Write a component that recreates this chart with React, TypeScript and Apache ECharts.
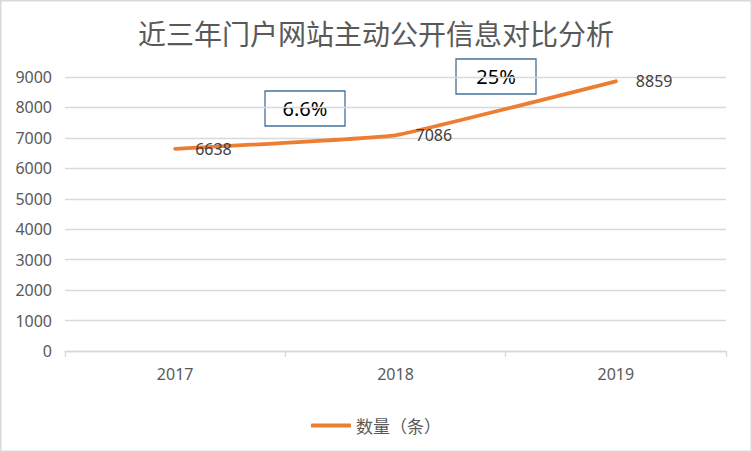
import React, { useEffect, useRef } from "react";
import * as echarts from "echarts";

const categories = ["2017", "2018", "2019"];
const seriesName = "数量（条）";
const values = [6638, 7086, 8859];
const growthLabels = ["6.6%", "25%"];
const titleText = "近三年门户网站主动公开信息对比分析";

export default function App() {
  const ref = useRef<HTMLDivElement>(null);
  useEffect(() => {
    if (!ref.current) return;
    const chart = echarts.init(ref.current, null, { renderer: "svg" });
    const numFont = "'Noto Sans', 'Liberation Sans', sans-serif";
    const cjkFont = "'Noto Sans CJK SC', 'Noto Sans', sans-serif";
    const boxStyle = (x: number, y: number, text: string) => ({
      type: "group",
      x,
      y,
      children: [
        {
          type: "rect",
          shape: { x: 0, y: 0, width: 80, height: 35 },
          style: { fill: "#fff", stroke: "#41719C", lineWidth: 1.3 },
        },
        {
          type: "text",
          x: 40,
          y: 17.5,
          style: {
            text,
            fill: "#000",
            font: `20px ${numFont}`,
            align: "center",
            verticalAlign: "middle",
          },
        },
      ],
    });
    chart.setOption({
      animation: false,
      backgroundColor: "#fff",
      title: {
        text: titleText,
        left: "center",
        top: 14,
        textStyle: {
          fontFamily: cjkFont,
          fontSize: 28,
          fontWeight: "normal",
          color: "#595959",
        },
      },
      grid: { left: 65, right: 26, top: 77, bottom: 101 },
      legend: {
        data: [
          {
            name: seriesName,
            icon: "roundRect",
            itemStyle: { color: "#ED7D31", opacity: 1 },
          },
        ],
        left: "center",
        top: 412,
        itemWidth: 40,
        itemHeight: 4,
        textStyle: { fontFamily: cjkFont, fontSize: 17, color: "#595959" },
      },
      xAxis: {
        type: "category",
        data: categories,
        boundaryGap: true,
        axisLine: { lineStyle: { color: "#D9D9D9", width: 1.3 } },
        axisTick: { show: true, length: 6, lineStyle: { color: "#D9D9D9", width: 1.3 } },
        axisLabel: { margin: 15, fontFamily: numFont, fontSize: 16, color: "#595959" },
      },
      yAxis: {
        type: "value",
        min: 0,
        max: 9000,
        interval: 1000,
        axisLine: { show: false },
        axisTick: { show: false },
        splitLine: { lineStyle: { color: "#D9D9D9", width: 1.3 } },
        axisLabel: {
          margin: 13,
          fontFamily: numFont,
          fontSize: 16,
          color: "#595959",
          formatter: (v: number) => String(v),
        },
      },
      series: [
        {
          name: seriesName,
          type: "line",
          data: values,
          smooth: 0.08,
          symbol: "circle",
          symbolSize: 0,
          showSymbol: true,
          lineStyle: { color: "#ED7D31", width: 3.8, cap: "round" },
          itemStyle: { color: "#ED7D31" },
          label: {
            show: true,
            position: "right",
            distance: 20,
            fontFamily: numFont,
            fontSize: 16,
            color: "#404040",
          },
        },
      ],
      graphic: [
        {
          type: "rect",
          shape: { x: 0.75, y: 0.75, width: 750.5, height: 450.5 },
          style: { fill: "none", stroke: "#D9D9D9", lineWidth: 1.5 },
          silent: true,
        },
        boxStyle(265, 91, growthLabels[0]),
        boxStyle(456, 59, growthLabels[1]),
      ],
    });
    return () => chart.dispose();
  }, []);
  return (
    <div
      ref={ref}
      style={{ position: "fixed", left: 0, top: 0, width: 752, height: 452 }}
    />
  );
}
